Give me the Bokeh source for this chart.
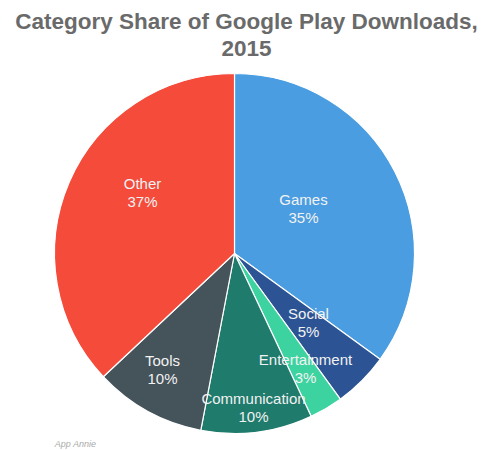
import math
from bokeh.plotting import figure
from bokeh.models import Range1d, ColumnDataSource
from bokeh.core.properties import value
from bokeh.embed import file_html
from bokeh.resources import INLINE

# ---- data ----
categories = ["Games", "Social", "Entertainment", "Communication", "Tools", "Other"]
shares = [35, 5, 3, 10, 10, 37]
colors = ["#4A9DE0", "#2C5494", "#3DD3A0", "#1F7B6C", "#45535B", "#F44B3B"]
title_lines = ["Category Share of Google Play Downloads,", "2015"]
source_note = "App Annie"

# ---- layout (pixels) ----
W, H = 492, 450
CX, CY_PX, R = 234, 253, 180
# label centre offsets from the pie centre, in pixels (x right, y down)
label_offsets = [(69, -45), (74, 69), (71, 115), (19, 154), (-72, 116), (-92, -61)]

def py(y_px):
    return H - y_px

total = float(sum(shares))
starts, ends = [], []
cum = 0.0
for s in shares:
    a0 = math.pi / 2 - 2 * math.pi * cum / total
    cum += s
    a1 = math.pi / 2 - 2 * math.pi * cum / total
    starts.append(a0)
    ends.append(a1)

src = ColumnDataSource(dict(cat=categories, share=shares, color=colors,
                            start=starts, end=ends))

p = figure(width=W, height=H, output_backend="svg", toolbar_location=None,
           x_range=Range1d(0, W), y_range=Range1d(0, H),
           min_border=0, min_border_left=0, min_border_right=0,
           min_border_top=0, min_border_bottom=0)
p.axis.visible = False
p.grid.visible = False
p.outline_line_color = None
p.background_fill_color = "white"
p.border_fill_color = "white"

p.wedge(x=CX, y=py(CY_PX), radius=R, start_angle="start", end_angle="end",
        direction="clock", fill_color="color", line_color="white",
        line_width=1.2, source=src)

# slice labels
lx1, ly1, lt1, lx2, ly2, lt2 = [], [], [], [], [], []
for cat, s, (dx, dy) in zip(categories, shares, label_offsets):
    x = CX + dx
    y_px = CY_PX + dy
    lx1.append(x); ly1.append(py(y_px - 9)); lt1.append(cat)
    lx2.append(x); ly2.append(py(y_px + 9)); lt2.append(f"{s}%")

for xs, ys, ts in ((lx1, ly1, lt1), (lx2, ly2, lt2)):
    p.text(x=xs, y=ys, text=ts, text_align="center", text_baseline="middle",
           text_font=value("Liberation Sans"), text_font_size="15px",
           text_color="#F2F2F2")

# title
p.text(x=[W / 2], y=[py(21)], text=[title_lines[0]], text_align="center",
       text_baseline="middle", text_font=value("Liberation Sans"),
       text_font_size="22.5px", text_font_style="bold", text_color="#6A6A6A")
p.text(x=[W / 2], y=[py(48)], text=[title_lines[1]], text_align="center",
       text_baseline="middle", text_font=value("Liberation Sans"),
       text_font_size="22.5px", text_font_style="bold", text_color="#6A6A6A")

# source note
p.text(x=[75], y=[py(443)], text=[source_note], text_align="center",
       text_baseline="middle", text_font=value("Liberation Sans"),
       text_font_size="9px", text_font_style="italic", text_color="#AAAAAA")

open("out.html", "w").write(file_html(p, INLINE))
